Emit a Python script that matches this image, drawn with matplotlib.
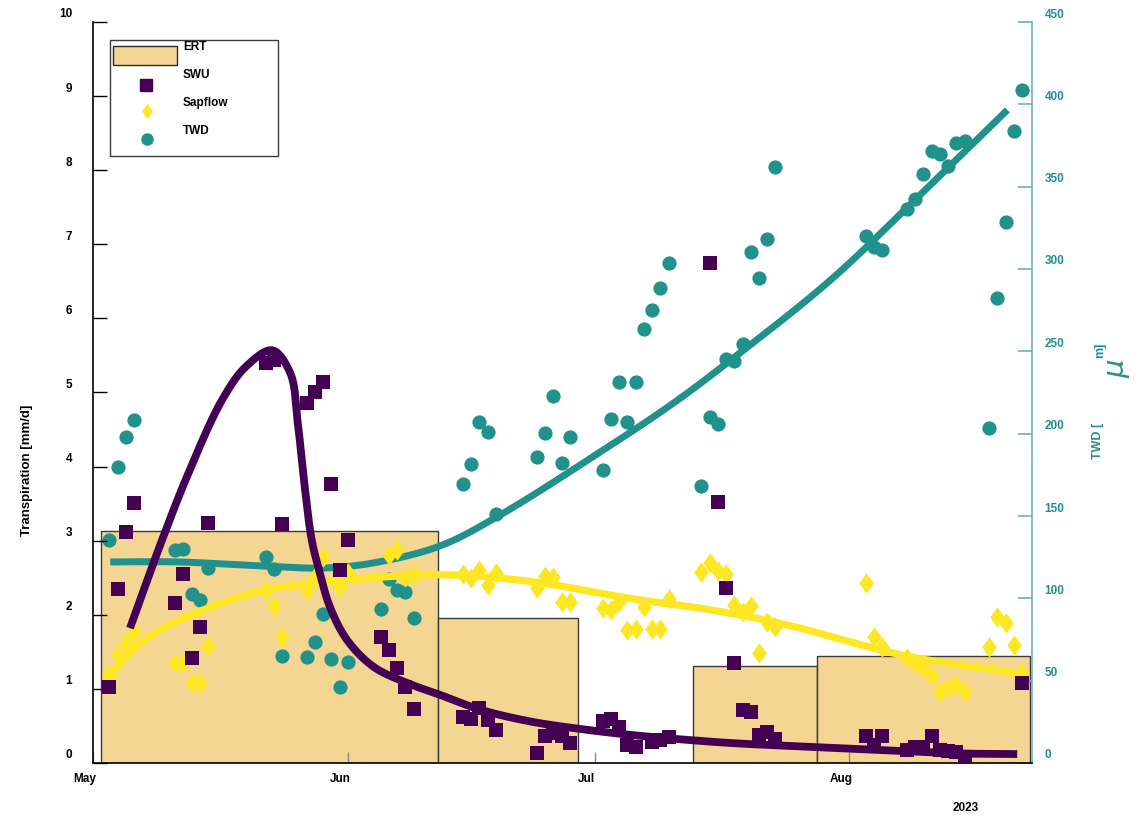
import numpy as np
import pandas as pd
import matplotlib
matplotlib.use("Agg")
import matplotlib.pyplot as plt
import matplotlib.dates as mdates
from matplotlib.transforms import ScaledTranslation
from matplotlib.patches import Rectangle
from matplotlib.path import Path

plt.rcParams['font.family'] = ['Liberation Sans', 'DejaVu Sans']
plt.rcParams['font.weight'] = 'bold'

YEAR = 2023

# ---------------- data ----------------
# ERT blocks (start, end, transpiration mm/d)
ert_start = ['05-02', '06-12', '07-13', '07-28']
ert_end = ['06-12', '06-29', '07-28', '08-23']
ert_value = [3.13, 1.96, 1.31, 1.45]

# Soil water uptake (mm/d)
swu_date = ['05-03', '05-04', '05-05', '05-06', '05-11', '05-12', '05-13', '05-14', '05-15',
            '05-22', '05-23', '05-24', '05-27', '05-28', '05-29', '05-30', '05-31', '06-01',
            '06-05', '06-06', '06-07', '06-08', '06-09', '06-15', '06-16', '06-17', '06-18',
            '06-19', '06-24', '06-25', '06-26', '06-27', '06-28', '07-02', '07-03', '07-04',
            '07-05', '07-06', '07-08', '07-09', '07-10', '07-15', '07-16', '07-17', '07-18',
            '07-19', '07-20', '07-21', '07-22', '07-23', '08-03', '08-04', '08-05', '08-08',
            '08-09', '08-10', '08-11', '08-12', '08-13', '08-14', '08-15', '08-22']
swu_value = [1.03, 2.35, 3.12, 3.51, 2.16, 2.55, 1.42, 1.84, 3.24,
             5.40, 5.44, 3.23, 4.86, 5.01, 5.14, 3.77, 2.60, 3.01,
             1.70, 1.52, 1.28, 1.03, 0.73, 0.62, 0.59, 0.74, 0.58,
             0.45, 0.13, 0.36, 0.40, 0.36, 0.27, 0.57, 0.59, 0.49,
             0.24, 0.22, 0.28, 0.31, 0.35, 6.75, 3.52, 2.36, 1.35,
             0.72, 0.69, 0.38, 0.42, 0.32, 0.36, 0.24, 0.36, 0.18,
             0.22, 0.22, 0.36, 0.18, 0.16, 0.15, 0.08, 1.08]

# Sap flow (mm/d)
sap_date = ['05-03', '05-04', '05-05', '05-06', '05-11', '05-12', '05-13', '05-14', '05-15',
            '05-22', '05-23', '05-24', '05-27', '05-28', '05-29', '05-31', '06-01', '06-06',
            '06-07', '06-08', '06-09', '06-15', '06-16', '06-17', '06-18', '06-19', '06-24',
            '06-25', '06-26', '06-27', '06-28', '07-02', '07-03', '07-04', '07-05', '07-06',
            '07-07', '07-08', '07-09', '07-10', '07-14', '07-15', '07-16', '07-17', '07-18',
            '07-19', '07-20', '07-21', '07-22', '07-23', '08-03', '08-04', '08-05', '08-08',
            '08-09', '08-10', '08-11', '08-12', '08-13', '08-14', '08-15', '08-18', '08-19',
            '08-20', '08-21', '08-22']
sap_value = [1.19, 1.46, 1.62, 1.77, 1.35, 1.35, 1.08, 1.08, 1.58,
             2.33, 2.12, 1.70, 2.33, 2.51, 2.78, 2.38, 2.56, 2.81,
             2.87, 2.51, 2.54, 2.55, 2.50, 2.60, 2.40, 2.56, 2.36,
             2.52, 2.51, 2.17, 2.17, 2.09, 2.06, 2.17, 1.79, 1.81,
             2.11, 1.81, 1.81, 2.21, 2.58, 2.70, 2.59, 2.55, 2.13,
             2.04, 2.12, 1.48, 1.90, 1.84, 2.43, 1.70, 1.57, 1.42,
             1.35, 1.28, 1.17, 0.96, 1.01, 1.05, 0.96, 1.57, 1.97,
             1.89, 1.59, 1.21]

# Tree water deficit (um)
twd_date = ['05-03', '05-04', '05-05', '05-06', '05-11', '05-12', '05-13', '05-14', '05-15',
            '05-22', '05-23', '05-24', '05-27', '05-28', '05-29', '05-30', '05-31', '06-01',
            '06-05', '06-06', '06-07', '06-08', '06-09', '06-15', '06-16', '06-17', '06-18',
            '06-19', '06-24', '06-25', '06-26', '06-27', '06-28', '07-02', '07-03', '07-04',
            '07-05', '07-06', '07-07', '07-08', '07-09', '07-10', '07-14', '07-15', '07-16',
            '07-17', '07-18', '07-19', '07-20', '07-21', '07-22', '07-23', '08-03', '08-04',
            '08-05', '08-08', '08-09', '08-10', '08-11', '08-12', '08-13', '08-14', '08-15',
            '08-18', '08-19', '08-20', '08-21', '08-22']
twd_value = [135.4, 180.0, 198.0, 208.0, 129.4, 130.0, 102.6, 99.0, 118.4,
             125.0, 117.8, 65.0, 64.4, 73.5, 90.5, 63.2, 46.2, 61.3,
             93.5, 111.7, 105.0, 103.9, 88.0, 169.4, 181.6, 207.0, 201.0,
             151.2, 185.8, 200.4, 222.9, 182.2, 198.0, 178.0, 208.9, 231.4,
             207.0, 231.4, 263.6, 275.0, 288.5, 303.6, 168.2, 210.0, 205.9,
             245.3, 244.1, 254.4, 310.3, 294.5, 318.2, 362.0, 320.0, 313.4,
             311.5, 336.4, 342.5, 357.7, 371.7, 369.8, 362.5, 376.5, 377.7,
             203.4, 282.4, 328.5, 383.8, 408.7]

# Smoothed trends (days after 1 May, value)
swu_trend_day = [4.5, 8.4, 11.6, 15.7, 18.6, 21.8, 24.0, 24.9, 25.8, 26.6, 27.6, 28.8,
                 30.9, 34.1, 38.2, 42.2, 47.1, 53.2, 59.2, 65.3, 71.4, 77.5, 88.8,
                 96.9, 105.1, 112.4]
swu_trend_val = [1.82, 3.01, 3.91, 4.90, 5.35, 5.57, 5.26, 4.59, 3.68, 3.01, 2.56, 2.11,
                 1.66, 1.30, 1.08, 0.92, 0.72, 0.56, 0.46, 0.38, 0.32, 0.27, 0.21,
                 0.17, 0.13, 0.12]
sap_trend_day = [1.8, 6.3, 12.4, 20.9, 30.0, 42.2, 53.2, 65.3, 73.8, 79.9, 86.0, 90.6,
                 98.2, 105.5, 112.8]
sap_trend_val = [1.16, 1.66, 2.02, 2.33, 2.46, 2.54, 2.45, 2.22, 2.09, 1.97, 1.82, 1.68,
                 1.46, 1.32, 1.21]
twd_trend_day = [2.1, 10.3, 20.9, 28.0, 34.1, 42.2, 49.1, 61.7, 70.6, 77.9, 89.7, 100.2, 111.2]
twd_trend_val = [122.1, 122.1, 119.6, 118.4, 121.5, 131.8, 149.4, 188.9, 218.6, 246.0,
                 293.3, 343.1, 396.6]

# ---------------- helpers ----------------
PURPLE = '#440154'
YELLOW = '#fde725'
TEAL = '#21918c'
ERT_FILL = '#f4d592'

base = mdates.date2num(pd.Timestamp(f'{YEAR}-05-01'))


def to_num(dates):
    return mdates.date2num(pd.to_datetime([f'{YEAR}-{d}' for d in dates]))


def smooth(days, vals, yscale, n=30):
    """Centripetal Catmull-Rom curve through the trend knots (in screen-like units)."""
    xs = np.asarray(days, float) * 8.22
    ys = np.asarray(vals, float) * yscale
    P = np.column_stack([xs, ys])
    P = np.vstack([2 * P[0] - P[1], P, 2 * P[-1] - P[-2]])
    out = []
    for i in range(1, len(P) - 2):
        p0, p1, p2, p3 = P[i - 1], P[i], P[i + 1], P[i + 2]
        t0 = 0.0
        t1 = t0 + np.linalg.norm(p1 - p0) ** 0.5
        t2 = t1 + np.linalg.norm(p2 - p1) ** 0.5
        t3 = t2 + np.linalg.norm(p3 - p2) ** 0.5
        t = np.linspace(t1, t2, n, endpoint=False)[:, None]
        a1 = (t1 - t) / (t1 - t0) * p0 + (t - t0) / (t1 - t0) * p1
        a2 = (t2 - t) / (t2 - t1) * p1 + (t - t1) / (t2 - t1) * p2
        a3 = (t3 - t) / (t3 - t2) * p2 + (t - t2) / (t3 - t2) * p3
        b1 = (t2 - t) / (t2 - t0) * a1 + (t - t0) / (t2 - t0) * a2
        b2 = (t3 - t) / (t3 - t1) * a2 + (t - t1) / (t3 - t1) * a3
        out.append((t2 - t) / (t2 - t1) * b1 + (t - t1) / (t2 - t1) * b2)
    out.append(P[-2][None, :])
    out = np.vstack(out)
    return out[:, 0] / 8.22 + base, out[:, 1] / yscale


W, H = 1140, 818


def fx(x):
    return x / W


def fy(y):
    return 1 - y / H


# ---------------- figure ----------------
fig = plt.figure(figsize=(W / 100, H / 100), dpi=100)
rect = [fx(93), fy(763), fx(1032) - fx(93), fy(22) - fy(763)]

ax_bg = fig.add_axes(rect)
ax2 = fig.add_axes(rect, sharex=ax_bg)
ax = fig.add_axes(rect, sharex=ax_bg)
ax_bg.set_zorder(0)
ax2.set_zorder(1)
ax.set_zorder(2)
ax2.patch.set_visible(False)
ax.patch.set_visible(False)

# ERT bars
e0 = to_num(ert_start)
e1 = to_num(ert_end)
ax_bg.bar(e0, ert_value, width=e1 - e0, align='edge', color=ERT_FILL,
          edgecolor='#3a3a3a', linewidth=1.0)
ax_bg.set_ylim(0, 10)
ax_bg.axis('off')

# TWD on right axis
ax2.scatter(to_num(twd_date), twd_value, s=105, marker='o', color=TEAL, linewidths=0, zorder=2)
tx, ty = smooth(twd_trend_day, twd_trend_val, 1.6467)
ax2.plot(tx, ty, color=TEAL, lw=5.0, solid_capstyle='butt', zorder=3)
ax2.set_ylim(0, 450)
ax2.set_yticks(np.arange(0, 451, 50))
for s in ['left', 'top', 'bottom']:
    ax2.spines[s].set_visible(False)
ax2.spines['right'].set_color('#6db3af')
ax2.spines['right'].set_linewidth(1.2)
ax2.yaxis.tick_right()
ax2.tick_params(axis='y', direction='in', length=10, width=1.2, color='#6db3af',
                labelcolor=TEAL, labelsize=8.5, pad=9)
ax2.tick_params(axis='x', bottom=False, labelbottom=False)

# Sapflow and SWU on left axis
diamond = Path([(0, -1), (0.72, 0), (0, 1), (-0.72, 0), (0, -1)],
               [Path.MOVETO, Path.LINETO, Path.LINETO, Path.LINETO, Path.CLOSEPOLY])
ax.scatter(to_num(sap_date), sap_value, s=215, marker=diamond, color=YELLOW, linewidths=0, zorder=2)
sx, sy = smooth(sap_trend_day, sap_trend_val, 74.1)
ax.plot(sx, sy, color=YELLOW, lw=5.2, solid_capstyle='butt', zorder=3)
ax.scatter(to_num(swu_date), swu_value, s=92, marker='s', color=PURPLE, linewidths=0, zorder=4)
wx, wy = smooth(swu_trend_day, swu_trend_val, 74.1)
ax.plot(wx, wy, color=PURPLE, lw=5.6, solid_capstyle='butt', zorder=5)

ax.set_ylim(0, 10)
ax.set_yticks(np.arange(0, 11, 1))
ax.set_xlim(base, base + 114.2)
ax.xaxis.set_major_locator(mdates.MonthLocator())
ax.xaxis.set_major_formatter(mdates.DateFormatter('%b'))
for s in ['top', 'right']:
    ax.spines[s].set_visible(False)
for s in ['left', 'bottom']:
    ax.spines[s].set_color('black')
    ax.spines[s].set_linewidth(1.2)
ax.tick_params(axis='y', direction='in', length=10, width=1.0, color='black',
               labelsize=8.5, pad=15)
ax.tick_params(axis='x', direction='in', length=8, width=1.0, color='#8a8a8a',
               labelsize=8.5, pad=7)

# tick label offsets
up = ScaledTranslation(0, 0.09, fig.dpi_scale_trans)
left = ScaledTranslation(-0.08, 0, fig.dpi_scale_trans)
for lbl in ax.get_yticklabels() + ax2.get_yticklabels():
    lbl.set_transform(lbl.get_transform() + up)
for lbl in ax.get_xticklabels():
    lbl.set_transform(lbl.get_transform() + left)

# axis titles
fig.text(fx(27), fy(470), 'Transpiration [mm/d]', rotation=90, ha='center', va='center',
         fontsize=9.5, fontweight='bold')
fig.text(fx(1098), fy(441), 'TWD [', rotation=90, ha='center', va='center',
         fontsize=9, fontweight='bold', color=TEAL)
fig.text(fx(1116), fy(369), '\u03bc', rotation=90, ha='center', va='center',
         fontsize=21, fontstyle='italic', fontweight='normal', color=TEAL,
         family=['DejaVu Sans'])
fig.text(fx(1100), fy(350), 'm]', rotation=90, ha='center', va='center',
         fontsize=9, fontweight='bold', color=TEAL)
fig.text(fx(966), fy(808), '2023', ha='center', va='center', fontsize=8.5, fontweight='bold')

# legend
tf = fig.transFigure
ax.add_patch(Rectangle((fx(110), fy(156)), fx(278) - fx(110), fy(40) - fy(156), transform=tf,
                       facecolor='white', edgecolor='#3a3a3a', lw=1.0, clip_on=False, zorder=20))
ax.add_patch(Rectangle((fx(113), fy(65)), fx(177) - fx(113), fy(46) - fy(65), transform=tf,
                       facecolor=ERT_FILL, edgecolor='#2a2a2a', lw=1.0, clip_on=False, zorder=21))
ax.plot([fx(146)], [fy(85)], transform=tf, marker='s', ms=8, color=PURPLE, ls='none',
        clip_on=False, zorder=21)
ax.plot([fx(147)], [fy(111)], transform=tf, marker=diamond, ms=11, color=YELLOW, ls='none',
        mew=0, clip_on=False, zorder=21)
ax.plot([fx(147)], [fy(139)], transform=tf, marker='o', ms=9, color=TEAL, ls='none',
        mew=0, clip_on=False, zorder=21)
for ty_, txt in zip([47, 75, 103, 131], ['ERT', 'SWU', 'Sapflow', 'TWD']):
    ax.text(fx(183), fy(ty_), txt, transform=tf, ha='left', va='center', fontsize=8.5,
            fontweight='bold', zorder=22)

fig.savefig('out.png', dpi=100)
